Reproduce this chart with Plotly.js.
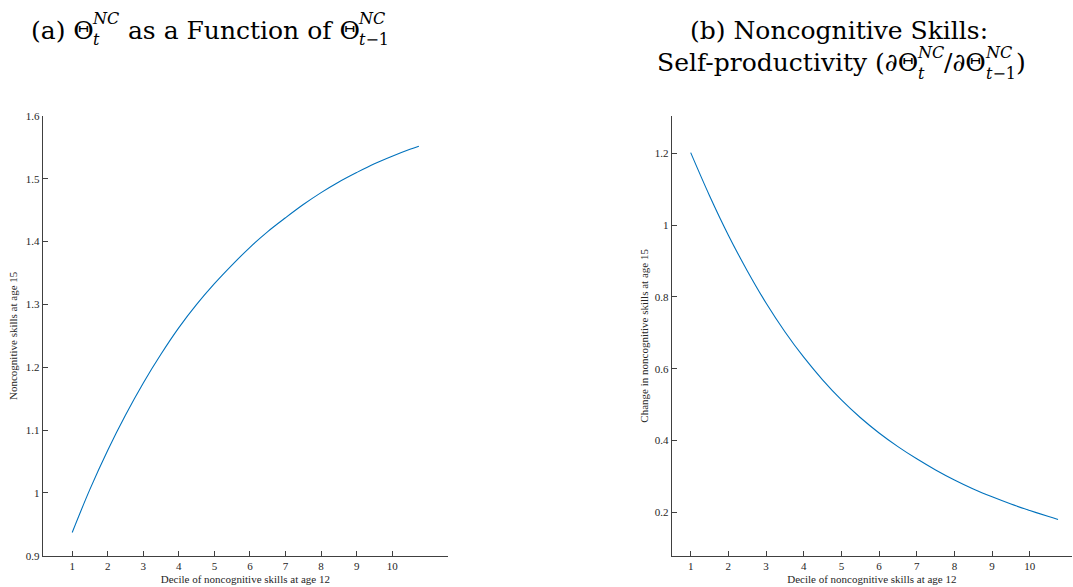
<!DOCTYPE html>
<html><head><meta charset="utf-8">
<script src="https://cdn.plot.ly/plotly-3.0.1.min.js"></script>
<style>html,body{margin:0;padding:0;background:#fff}#chart{width:1073px;height:587px}</style>
</head><body><div id="chart"></div>
<script>
// ---- data ----
const decile = [1,1.5,2,2.5,3,3.5,4,4.5,5,5.5,6,6.5,7,7.5,8,8.5,9,9.5,10,10.5,10.75];
const levelNC = [0.937,1.006,1.068,1.124,1.175,1.221,1.263,1.300,1.333,1.363,1.391,1.416,1.438,1.459,1.478,1.495,1.510,1.524,1.536,1.547,1.552];
const slopeNC = [1.202,1.082,0.972,0.873,0.783,0.703,0.632,0.569,0.513,0.464,0.421,0.383,0.349,0.318,0.290,0.265,0.243,0.223,0.205,0.188,0.180];
const xTickVals = [1,2,3,4,5,6,7,8,9,10];
const xTickText = ['1','2','3','4','5','6','7','8','9','10'];
const xLabel = 'Decile of noncognitive skills at age 12';
const yLabelA = 'Noncognitive skills at age 15';
const yLabelB = 'Change in noncognitive skills at age 15';

const W = 1073, H = 587;
const FONT = 'Liberation Serif, Times New Roman, serif';
const TFONT = 'DejaVu Serif, Liberation Serif, serif';
const axColor = '#404040';
const lineColor = '#0072BD';

function px(x){ return x / W; }
function py(y){ return 1 - y / H; }

const baseAxis = {
  showline: true, linecolor: axColor, linewidth: 1,
  ticks: 'inside', ticklen: 5, tickwidth: 1, tickcolor: axColor,
  showgrid: false, zeroline: false, mirror: false,
  tickfont: {family: FONT, size: 11, color: '#262626'}
};

const traces = [
  {x: decile, y: levelNC, type: 'scatter', mode: 'lines', line: {color: lineColor, width: 1.1, shape: 'spline', smoothing: 1}, xaxis: 'x', yaxis: 'y', hoverinfo: 'skip'},
  {x: decile, y: slopeNC, type: 'scatter', mode: 'lines', line: {color: lineColor, width: 1.1, shape: 'spline', smoothing: 1}, xaxis: 'x2', yaxis: 'y2', hoverinfo: 'skip'}
];

// ---- title pieces with stacked scripts, chained by measured width ----
const ctx = document.createElement('canvas').getContext('2d');
function meas(parts, size){
  let w = 0;
  parts.forEach(p => { ctx.font = (p[1] ? 'italic ' : '') + size + 'px ' + TFONT; w += ctx.measureText(p[0]).width; });
  return w;
}
function html(parts){ return parts.map(p => p[1] ? '<i>' + p[0] + '</i>' : p[0]).join(''); }
const annotations = [];
function addText(text, x, yMid, size){
  annotations.push({xref: 'paper', yref: 'paper', x: px(x), y: py(yMid), xanchor: 'left', yanchor: 'middle', align: 'left',
    text: text, showarrow: false, borderpad: 0,
    font: {family: TFONT, size: size, color: '#000'}});
}
const SCR = 0.64;
function pieceWidth(p, size){
  const s = size * SCR;
  if (typeof p === 'string') return meas([[p, false]], size);
  return Math.max(meas(p.sup, s), meas(p.sub, s)) + 1.5;
}
function chainCenter(pieces, cx, yMid, size){
  let wTot = 0; pieces.forEach(p => { wTot += pieceWidth(p, size); });
  let x = cx - wTot / 2;
  const s = Math.round(size * SCR * 10) / 10;
  pieces.forEach(p => {
    if (typeof p === 'string') { addText(p, x, yMid, size); }
    else { addText(html(p.sup) + '<br>' + html(p.sub), x - 0.5, yMid - 0.5, s); }
    x += pieceWidth(p, size) - 1;
  });
}
const TS = 25;
const supNC = [['NC', true]];
const subT = [['t', true]];
const subT1 = [['t', true], ['−1', false]];
chainCenter(['(a) Θ', {sup: supNC, sub: subT}, ' as a Function of Θ', {sup: supNC, sub: subT1}], 211, 30, TS);
chainCenter(['(b) Noncognitive Skills:'], 838.5, 30, TS);
chainCenter(['Self-productivity (∂Θ', {sup: supNC, sub: subT}, '/∂Θ', {sup: supNC, sub: subT1}, ')'], 842.5, 63, TS);

const layout = {
  width: W, height: H,
  margin: {l: 0, r: 0, t: 0, b: 0},
  paper_bgcolor: '#fff', plot_bgcolor: '#fff',
  showlegend: false,
  xaxis: Object.assign({}, baseAxis, {domain: [px(42.7), px(448)], range: [0.17, 11.57], tickvals: xTickVals, ticktext: xTickText, anchor: 'y',
    title: {text: xLabel, font: {family: FONT, size: 11, color: '#262626'}, standoff: 4}}),
  yaxis: Object.assign({}, baseAxis, {domain: [py(555.7), py(116)], range: [0.9, 1.6], tick0: 0.9, dtick: 0.1, anchor: 'x',
    title: {text: yLabelA, font: {family: FONT, size: 11, color: '#262626'}, standoff: 5}}),
  xaxis2: Object.assign({}, baseAxis, {domain: [px(671.7), px(1072)], range: [0.496, 11.12], tickvals: xTickVals, ticktext: xTickText, anchor: 'y2',
    title: {text: xLabel, font: {family: FONT, size: 11, color: '#262626'}, standoff: 4}}),
  yaxis2: Object.assign({}, baseAxis, {domain: [py(555.7), py(116)], range: [0.079, 1.304], tick0: 0.2, dtick: 0.2, anchor: 'x2',
    title: {text: yLabelB, font: {family: FONT, size: 11, color: '#262626'}, standoff: 3}}),
  annotations: annotations
};

Plotly.newPlot('chart', traces, layout, {displayModeBar: false, staticPlot: true});
</script></body></html>
